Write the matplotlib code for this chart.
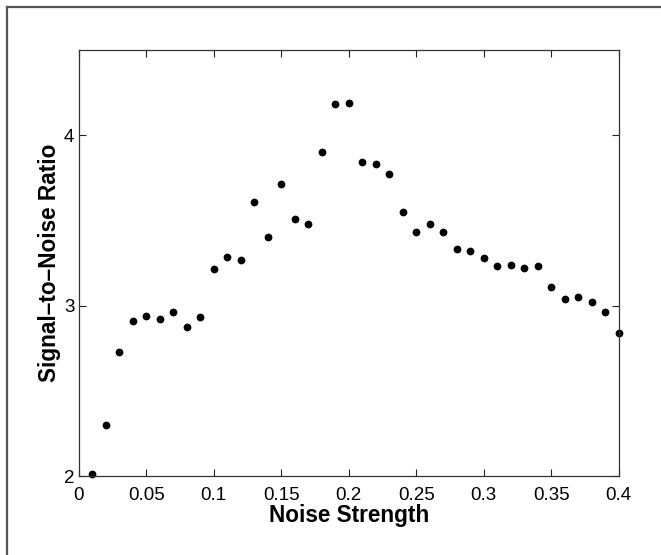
import numpy as np
import matplotlib
matplotlib.use("Agg")
import matplotlib.pyplot as plt
from matplotlib.lines import Line2D

# ----------------------------------------------------------
# Data
# ----------------------------------------------------------
noise_strength = [0.01, 0.02, 0.03, 0.04, 0.05, 0.06, 0.07, 0.08, 0.09, 0.10,
                  0.11, 0.12, 0.13, 0.14, 0.15, 0.16, 0.17, 0.18, 0.19, 0.20,
                  0.21, 0.22, 0.23, 0.24, 0.25, 0.26, 0.27, 0.28, 0.29, 0.30,
                  0.31, 0.32, 0.33, 0.34, 0.35, 0.36, 0.37, 0.38, 0.39, 0.40]
snr = [2.01, 2.30, 2.73, 2.91, 2.94, 2.92, 2.96, 2.875, 2.93, 3.215,
       3.285, 3.265, 3.61, 3.40, 3.71, 3.51, 3.48, 3.90, 4.18, 4.19,
       3.84, 3.83, 3.77, 3.55, 3.43, 3.48, 3.43, 3.33, 3.32, 3.28,
       3.23, 3.24, 3.22, 3.23, 3.11, 3.04, 3.05, 3.02, 2.96, 2.84]

x_ticks = [0, 0.05, 0.1, 0.15, 0.2, 0.25, 0.3, 0.35, 0.4]
x_tick_labels = ["0", "0.05", "0.1", "0.15", "0.2", "0.25", "0.3", "0.35", "0.4"]
y_ticks = [2, 3, 4]

# ----------------------------------------------------------
# Plot
# ----------------------------------------------------------
plt.rcParams["font.family"] = ["Liberation Sans", "DejaVu Sans"]

fig = plt.figure(figsize=(6.61, 5.55), dpi=100)
ax = fig.add_axes([0.119, 0.1423, 0.817, 0.768])

ax.plot(noise_strength, snr, "o", color="black", markersize=5.6,
        markeredgewidth=0, clip_on=False)

ax.set_xlim(0, 0.4)
ax.set_ylim(2, 4.5)
ax.set_xticks(x_ticks)
ax.set_xticklabels(x_tick_labels)
ax.set_yticks(y_ticks)
ax.tick_params(direction="in", length=5, width=0.8, labelsize=13.5,
               top=True, right=True, colors="#222222", labelcolor="black")
ax.tick_params(axis="x", pad=8)
ax.tick_params(axis="y", pad=3)
for s in ax.spines.values():
    s.set_linewidth(0.9)
    s.set_color("#333333")

ax.set_xlabel("Noise Strength", fontsize=16.3, fontweight="bold", labelpad=0)
ax.set_ylabel("Signal\u2013to\u2013Noise Ratio", fontsize=16.3,
              fontweight="bold", labelpad=2)

# frame lines along top and left of the figure
fig.add_artist(Line2D([0.0113, 0.0113], [0, 0.988], transform=fig.transFigure,
                      color="#555555", linewidth=1.6))
fig.add_artist(Line2D([0.0113, 1.0], [0.988, 0.988], transform=fig.transFigure,
                      color="#555555", linewidth=1.6))

fig.savefig("out.png", dpi=100)
